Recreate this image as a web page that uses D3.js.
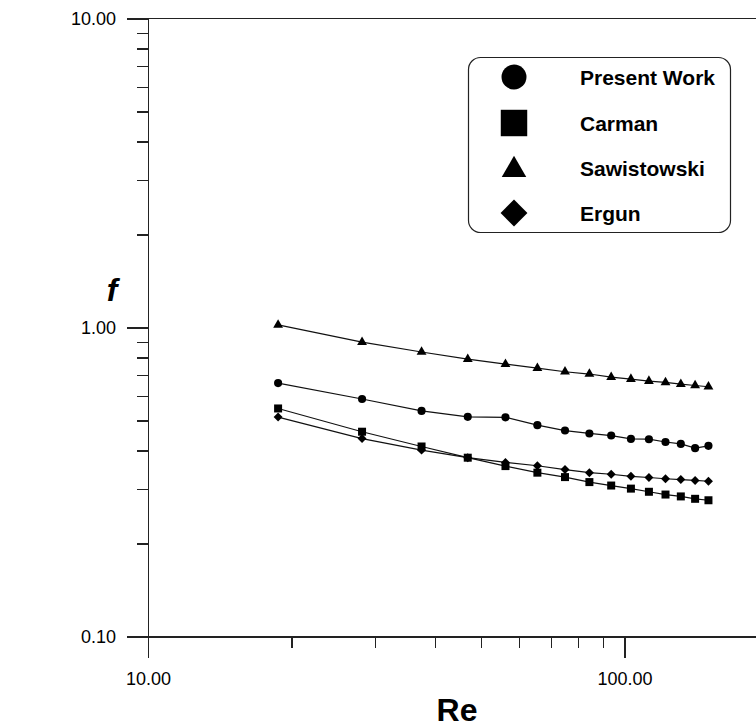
<!DOCTYPE html>
<html>
<head>
<meta charset="utf-8">
<script src="https://cdn.jsdelivr.net/npm/d3@7"></script>
<style>
  body { margin: 0; background: #fff; }
  svg { font-family: "Liberation Sans", Arial, sans-serif; }
  .axis path, .axis line { stroke: #222; stroke-width: 1.2; shape-rendering: crispEdges; }
  .axis text { font-family: "Liberation Sans", Arial, sans-serif; font-size: 18px; fill: #000; }
</style>
</head>
<body>
<svg id="chart" width="756" height="728"></svg>
<script>
// Reynolds numbers (shared by all series)
const reValues = [18.75, 28.13, 37.5, 46.88, 56.25, 65.63, 75, 84.38, 93.75, 103.13, 112.5, 121.88, 131.25, 140.63, 150];

// friction factor for each correlation
const presentWork = [0.661, 0.587, 0.537, 0.514, 0.512, 0.483, 0.464, 0.454, 0.447, 0.436, 0.435, 0.426, 0.420, 0.407, 0.414];
const carman      = [0.547, 0.460, 0.412, 0.379, 0.356, 0.339, 0.328, 0.316, 0.308, 0.301, 0.294, 0.288, 0.284, 0.279, 0.276];
const sawistowski = [1.020, 0.897, 0.833, 0.790, 0.761, 0.739, 0.719, 0.707, 0.691, 0.681, 0.671, 0.664, 0.656, 0.649, 0.643];
const ergun       = [0.513, 0.437, 0.401, 0.379, 0.366, 0.357, 0.347, 0.339, 0.335, 0.330, 0.327, 0.324, 0.322, 0.320, 0.318];

const seriesNames = ["Present Work", "Carman", "Sawistowski", "Ergun"];

// axis ticks
const xMajor = [10, 100];
const xMinor = [20, 30, 40, 50, 60, 70, 80, 90, 200];
const yMajor = [0.1, 1, 10];
const yMinor = [0.2, 0.3, 0.4, 0.5, 0.6, 0.7, 0.8, 0.9, 2, 3, 4, 5, 6, 7, 8, 9];

const svg = d3.select("#chart");

const x = d3.scaleLog().domain([10, 200]).range([148, 768]);
const y = d3.scaleLog().domain([0.1, 10]).range([636.5, 18.5]);

const fmt = d3.format(".2f");

// top border
svg.append("line")
  .attr("x1", x(10)).attr("x2", x(200))
  .attr("y1", y(10)).attr("y2", y(10))
  .attr("stroke", "#222").attr("stroke-width", 1.2);

// y axis
svg.append("g")
  .attr("class", "axis")
  .attr("transform", `translate(${x(10)},0)`)
  .call(d3.axisLeft(y).tickValues(yMinor).tickSize(11).tickSizeOuter(0).tickFormat(""));

svg.append("g")
  .attr("class", "axis")
  .attr("transform", `translate(${x(10)},0)`)
  .call(d3.axisLeft(y).tickValues(yMajor).tickSize(21).tickSizeOuter(0).tickPadding(11).tickFormat(fmt));

// x axis
svg.append("g")
  .attr("class", "axis")
  .attr("transform", `translate(0,${y(0.1)})`)
  .call(d3.axisBottom(x).tickValues(xMinor).tickSize(11).tickSizeOuter(0).tickFormat(""));

svg.append("g")
  .attr("class", "axis")
  .attr("transform", `translate(0,${y(0.1)})`)
  .call(d3.axisBottom(x).tickValues(xMajor).tickSize(21).tickSizeOuter(0).tickPadding(15).tickFormat(fmt));

// axis titles
svg.append("text")
  .attr("x", 457).attr("y", 721)
  .attr("text-anchor", "middle")
  .attr("font-size", "32px").attr("font-weight", "bold")
  .text("Re");

svg.append("text")
  .attr("x", 112).attr("y", 301)
  .attr("text-anchor", "middle")
  .attr("font-size", "32px").attr("font-weight", "bold").attr("font-style", "italic")
  .text("f");

// symbols (diamond = square turned 45 degrees)
const symbols = [d3.symbolCircle, d3.symbolSquare, d3.symbolTriangle, d3.symbolSquare];
const rotations = [0, 0, 0, 45];
const plotSizes = [52, 64, 42, 40];
const legendSizes = [490, 700, 260, 360];

const data = [presentWork, carman, sawistowski, ergun];

const line = d3.line()
  .x(d => x(d.re))
  .y(d => y(d.f));

data.forEach((vals, i) => {
  const pts = reValues.map((re, j) => ({ re, f: vals[j] }));

  svg.append("path")
    .datum(pts)
    .attr("fill", "none")
    .attr("stroke", "#111")
    .attr("stroke-width", 1.2)
    .attr("d", line);

  svg.selectAll(".pt" + i)
    .data(pts)
    .join("path")
    .attr("class", "pt" + i)
    .attr("transform", d => `translate(${x(d.re)},${y(d.f)}) rotate(${rotations[i]})`)
    .attr("d", d3.symbol().type(symbols[i]).size(plotSizes[i]))
    .attr("fill", "#000");
});

// legend
const legend = svg.append("g");
legend.append("rect")
  .attr("x", 468.5).attr("y", 57.5)
  .attr("width", 262).attr("height", 175)
  .attr("rx", 12).attr("ry", 12)
  .attr("fill", "#fff").attr("stroke", "#222").attr("stroke-width", 1.2);

const rowY = [77, 123, 168, 213];
seriesNames.forEach((name, i) => {
  legend.append("path")
    .attr("transform", `translate(514,${rowY[i] + (i === 2 ? 2 : 0)}) rotate(${rotations[i]})`)
    .attr("d", d3.symbol().type(symbols[i]).size(legendSizes[i]))
    .attr("fill", "#000");
  legend.append("text")
    .attr("x", 580).attr("y", rowY[i] + 8)
    .attr("font-size", "21px").attr("font-weight", "bold")
    .text(name);
});
</script>
</body>
</html>
